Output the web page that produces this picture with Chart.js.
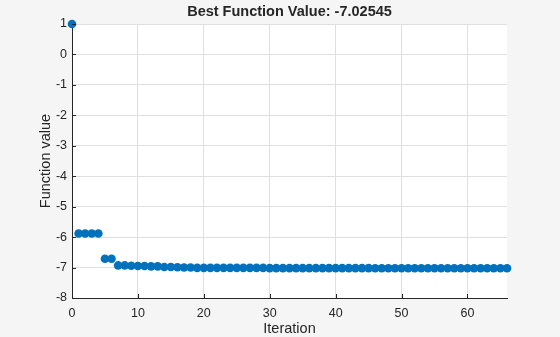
<!DOCTYPE html>
<html>
<head>
<meta charset="utf-8">
<script src="https://cdn.jsdelivr.net/npm/chart.js@4.4.0/dist/chart.umd.min.js"></script>
<style>
  html, body { margin: 0; padding: 0; background: #f5f5f5; }
  #wrap { width: 560px; height: 337px; }
</style>
</head>
<body>
<div id="wrap"><canvas id="bestChart" width="560" height="337"></canvas></div>
<script>
// iterations 0..66 and the best function value at each
var iterations = [];
for (var i = 0; i <= 66; i++) iterations.push(i);

var bestValues = [
  1,
  -5.88, -5.88, -5.88, -5.88,
  -6.71, -6.71,
  -6.93, -6.93, -6.94,
  -6.95, -6.95, -6.96, -6.96,
  -6.98, -6.98, -6.99,
  -7.00, -7.00, -7.01,
  -7.01, -7.01, -7.01, -7.01, -7.01, -7.01, -7.01, -7.01, -7.01, -7.01,
  -7.02, -7.02, -7.02, -7.02, -7.02, -7.02, -7.02, -7.02,
  -7.02, -7.02, -7.02, -7.02, -7.02, -7.02, -7.02, -7.02,
  -7.025, -7.025, -7.025, -7.025, -7.025, -7.025, -7.025,
  -7.025, -7.025, -7.025, -7.025, -7.025, -7.025, -7.025,
  -7.025, -7.025, -7.025, -7.025, -7.025, -7.025, -7.025
];

var xTicks = [0, 10, 20, 30, 40, 50, 60];
var yTicks = [1, 0, -1, -2, -3, -4, -5, -6, -7, -8];
var titleText = 'Best Function Value: -7.02545';

var points = iterations.map(function(it, k) {
  return { x: it, y: bestValues[k] };
});

var fontFam = '"Liberation Sans", Arial, sans-serif';

// background, title over the plot area and inward tick marks (MATLAB look)
var matlabLook = {
  id: 'matlabLook',
  beforeDraw: function(chart) {
    var c = chart.ctx, a = chart.chartArea;
    c.save();
    c.fillStyle = '#f5f5f5';
    c.fillRect(0, 0, chart.width, chart.height);
    c.fillStyle = '#ffffff';
    c.fillRect(a.left, a.top, a.right - a.left, a.bottom - a.top);
    c.restore();
  },
  afterDraw: function(chart) {
    var c = chart.ctx, a = chart.chartArea;
    var xs = chart.scales.x, ys = chart.scales.y;
    c.save();
    c.strokeStyle = '#262626';
    c.lineWidth = 1;
    c.beginPath();
    xTicks.forEach(function(t) {
      var px = Math.round(xs.getPixelForValue(t)) + 0.5;
      c.moveTo(px, a.bottom);
      c.lineTo(px, a.bottom - 4);
    });
    yTicks.forEach(function(t) {
      var py = Math.round(ys.getPixelForValue(t)) + 0.5;
      c.moveTo(a.left, py);
      c.lineTo(a.left + 4, py);
    });
    c.stroke();
    c.fillStyle = '#262626';
    c.font = 'bold 14.5px ' + fontFam;
    c.textAlign = 'center';
    c.textBaseline = 'middle';
    c.fillText(titleText, (a.left + a.right) / 2, 12);
    c.restore();
  }
};

var ctx = document.getElementById('bestChart').getContext('2d');
var bestChart = new Chart(ctx, {
  type: 'scatter',
  data: {
    datasets: [{
      label: 'Best value',
      data: points,
      backgroundColor: '#0072BD',
      borderColor: '#0072BD',
      pointRadius: 4.3,
      pointBorderWidth: 0,
      pointHoverRadius: 4.3,
      clip: false
    }]
  },
  options: {
    responsive: false,
    animation: false,
    layout: {
      padding: { left: 0, right: 53, top: 24, bottom: 0 }
    },
    plugins: {
      legend: { display: false },
      tooltip: { enabled: false },
      title: { display: false }
    },
    scales: {
      x: {
        type: 'linear',
        min: 0,
        max: 66,
        afterFit: function(s) { s.height = 39; },
        afterBuildTicks: function(s) {
          s.ticks = xTicks.map(function(v) { return { value: v }; });
        },
        ticks: {
          color: '#262626',
          font: { family: fontFam, size: 12.5 },
          padding: 8,
          maxRotation: 0
        },
        grid: {
          color: '#dfdfdf',
          drawTicks: false
        },
        border: { color: '#262626', width: 1 },
        title: {
          display: true,
          text: 'Iteration',
          color: '#262626',
          font: { family: fontFam, size: 14.5 },
          padding: { top: 0, bottom: -1 }
        }
      },
      y: {
        type: 'linear',
        min: -8,
        max: 1,
        afterFit: function(s) { s.width = 72; },
        afterBuildTicks: function(s) {
          s.ticks = yTicks.map(function(v) { return { value: v }; });
        },
        ticks: {
          color: '#262626',
          font: { family: fontFam, size: 12.5 },
          padding: 5
        },
        grid: {
          color: '#dfdfdf',
          drawTicks: false
        },
        border: { color: '#262626', width: 1 },
        title: {
          display: true,
          text: 'Function value',
          color: '#262626',
          font: { family: fontFam, size: 14.5 },
          padding: { top: 37, bottom: 0 }
        }
      }
    }
  },
  plugins: [matlabLook]
});
</script>
</body>
</html>
